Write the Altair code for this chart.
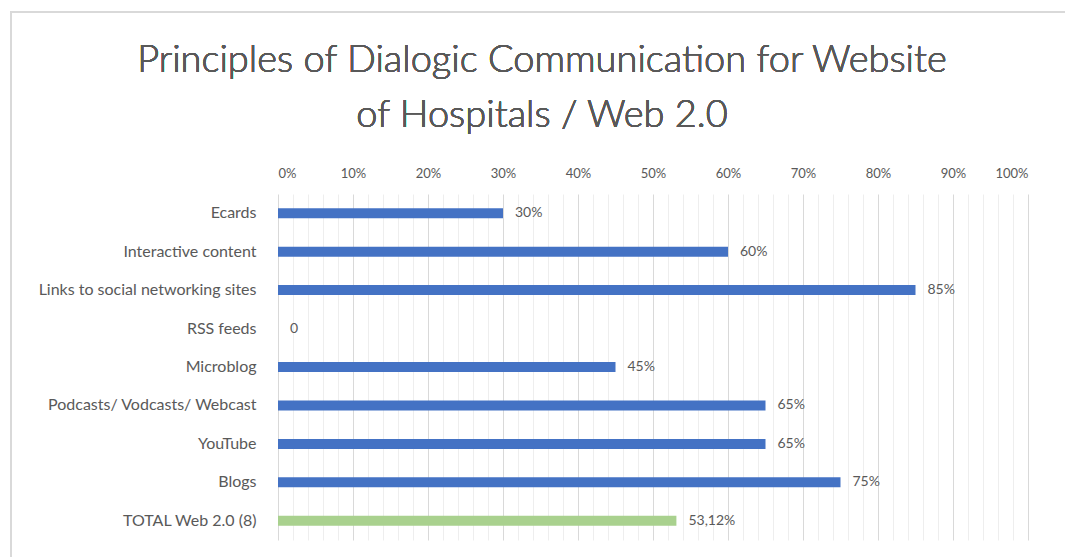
import altair as alt
import pandas as pd

categories = [
    "Ecards",
    "Interactive content",
    "Links to social networking sites",
    "RSS feeds",
    "Microblog",
    "Podcasts/ Vodcasts/ Webcast",
    "YouTube",
    "Blogs",
    "TOTAL Web 2.0 (8)",
]
values = [30, 60, 85, 0, 45, 65, 65, 75, 53.12]
labels = ["30%", "60%", "85%", "0", "45%", "65%", "65%", "75%", "53,12%"]
groups = ["item"] * 8 + ["total"]
tick_values = list(range(0, 101, 2))
title_lines = ["Principles of Dialogic Communication for Website", "of Hospitals /  Web 2.0"]

df = pd.DataFrame({"cat": categories, "val": values, "lab": labels, "grp": groups})

TXT = "#595959"
FONT = "Lato"

y_enc = alt.Y(
    "cat:N",
    sort=categories,
    title=None,
    scale=alt.Scale(paddingInner=0.74, paddingOuter=0.37),
    axis=alt.Axis(
        domain=False, ticks=False, labelFont=FONT, labelFontSize=16,
        labelColor=TXT, labelPadding=22, labelLimit=400,
    ),
)
x_enc = alt.X(
    "val:Q",
    title=None,
    scale=alt.Scale(domain=[0, 100], nice=False),
    axis=alt.Axis(
        orient="top",
        values=tick_values,
        tickCount=200,
        labelExpr="datum.value % 10 === 0 ? datum.value + '%' : ''",
        labelOverlap=False,
        domain=False,
        ticks=False,
        labelFont=FONT,
        labelFontSize=13,
        labelColor=TXT,
        labelPadding=14,
        gridColor={"condition": {"test": "datum.value % 10 === 0", "value": "#d9d9d9"},
                   "value": "#eeeeee"},
        gridWidth=1,
    ),
)

bars = alt.Chart(df).mark_bar(size=10).encode(
    y=y_enc,
    x=x_enc,
    color=alt.Color("grp:N", scale=alt.Scale(domain=["item", "total"], range=["#4472C4", "#A9D18E"]), legend=None),
)

text = alt.Chart(df).mark_text(align="left", baseline="middle", dx=12, font=FONT, fontSize=14, color=TXT).encode(
    y=alt.Y("cat:N", sort=categories),
    x=alt.X("val:Q"),
    text="lab:N",
)

frame = alt.Chart(df).mark_rect(fill="transparent", stroke="#d9d9d9", strokeWidth=1.5).encode(
    x=alt.value(-267), x2=alt.value(790), y=alt.value(-182), y2=alt.value(370)
)

title1 = alt.Chart(df).mark_text(
    text=title_lines[0], font=FONT, fontSize=38, fontWeight=300, color=TXT,
    align="center", baseline="alphabetic",
).encode(x=alt.value(264), y=alt.value(-122))
title2 = alt.Chart(df).mark_text(
    text=title_lines[1], font=FONT, fontSize=38, fontWeight=300, color=TXT,
    align="center", baseline="alphabetic",
).encode(x=alt.value(264), y=alt.value(-67))

chart = alt.layer(frame, title1, title2, bars, text).properties(
    width=750,
    height=346,
    padding={"left": 278, "top": 194, "right": 37, "bottom": 17},
    autosize=alt.AutoSizeParams(type="none"),
).configure_view(stroke=None).configure_axis(grid=True).configure_axisY(grid=False)

chart.save("out.html", embed_options={"renderer": "svg", "actions": False})
